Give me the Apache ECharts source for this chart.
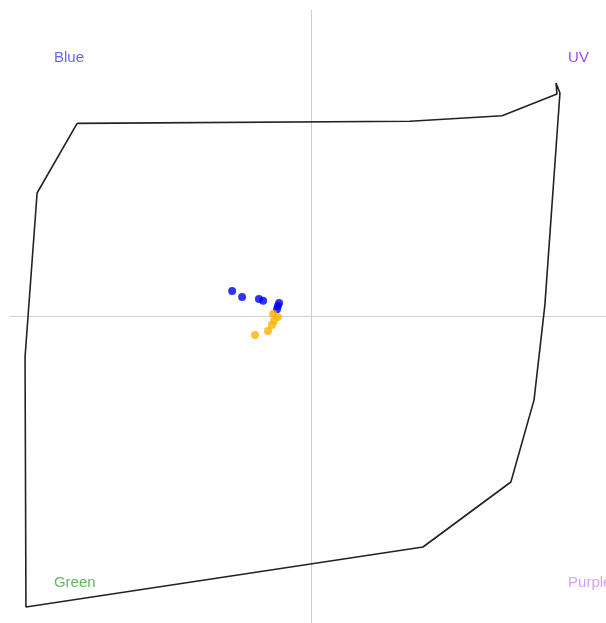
<!DOCTYPE html>
<html>
<head>
<meta charset="utf-8">
<script src="https://cdn.jsdelivr.net/npm/echarts@6/dist/echarts.min.js"></script>
<style>
  html, body { margin: 0; padding: 0; background: #fff; }
  #chart { width: 606px; height: 623px; }
</style>
</head>
<body>
<div id="chart"></div>
<script>
// Outline of the colour space (closed polygon, x/y in space units)
const outlineX = [-0.777, 0.329, 0.635, 0.817, 0.814, 0.827, 0.777, 0.741, 0.664, 0.372, -0.947, -0.950, -0.910, -0.777];
const outlineY = [ 0.630, 0.637, 0.655, 0.726, 0.762, 0.729, 0.038, -0.272, -0.540, -0.752, -0.948, -0.132, 0.403, 0.630];

// First group of samples (blue)
const blueX = [-0.262, -0.229, -0.173, -0.159, -0.106, -0.110, -0.113];
const blueY = [ 0.083,  0.064,  0.057,  0.051,  0.044,  0.034,  0.024];

// Second group of samples (orange)
const orangeX = [-0.126, -0.110, -0.123, -0.130, -0.143, -0.186];
const orangeY = [ 0.008, -0.002, -0.015, -0.028, -0.047, -0.060];

// Corner labels of the space
const cornerNames  = ['Blue', 'UV', 'Green', 'Purple'];
const cornerX      = [-0.854, 0.854, -0.854, 0.854];
const cornerY      = [ 0.844, 0.844, -0.869, -0.869];
const cornerColors = ['#3c3cf0', '#7a1cf2', '#3f9f3f', '#c98af7'];

const zip = (xs, ys) => xs.map((x, i) => [x, ys[i]]);

const chart = echarts.init(document.getElementById('chart'));
const axisStyle = {
  type: 'value',
  axisLine: { show: true, onZero: true, lineStyle: { color: '#cfcfcf', width: 1 } },
  axisTick: { show: false },
  axisLabel: { show: false },
  splitLine: { show: false }
};

chart.setOption({
  animation: false,
  backgroundColor: '#ffffff',
  grid: { left: 10, right: 0, top: 10, bottom: 0, containLabel: false },
  // the plotting window runs past the right edge of the page
  xAxis: Object.assign({ min: -1, max: 0.98 }, axisStyle),
  yAxis: Object.assign({ min: -1, max: 1 }, axisStyle),
  series: [
    {
      type: 'line',
      data: zip(outlineX, outlineY),
      showSymbol: false,
      symbol: 'none',
      smooth: false,
      lineStyle: { color: '#222222', width: 1.6 },
      z: 2
    },
    {
      type: 'scatter',
      data: zip(blueX, blueY),
      symbolSize: 8,
      itemStyle: { color: '#0000f5' },
      z: 3
    },
    {
      type: 'scatter',
      data: zip(orangeX, orangeY),
      symbolSize: 8,
      itemStyle: { color: '#ffb000' },
      z: 4
    },
    {
      type: 'scatter',
      symbolSize: 0,
      silent: true,
      data: cornerNames.map((n, i) => ({
        name: n,
        value: [cornerX[i], cornerY[i]],
        label: { color: cornerColors[i] }
      })),
      label: {
        show: true,
        position: 'right',
        distance: 0,
        formatter: p => p.name,
        fontFamily: 'Liberation Sans, Arial, sans-serif',
        fontSize: 15
      },
      z: 5
    }
  ]
});
</script>
</body>
</html>
